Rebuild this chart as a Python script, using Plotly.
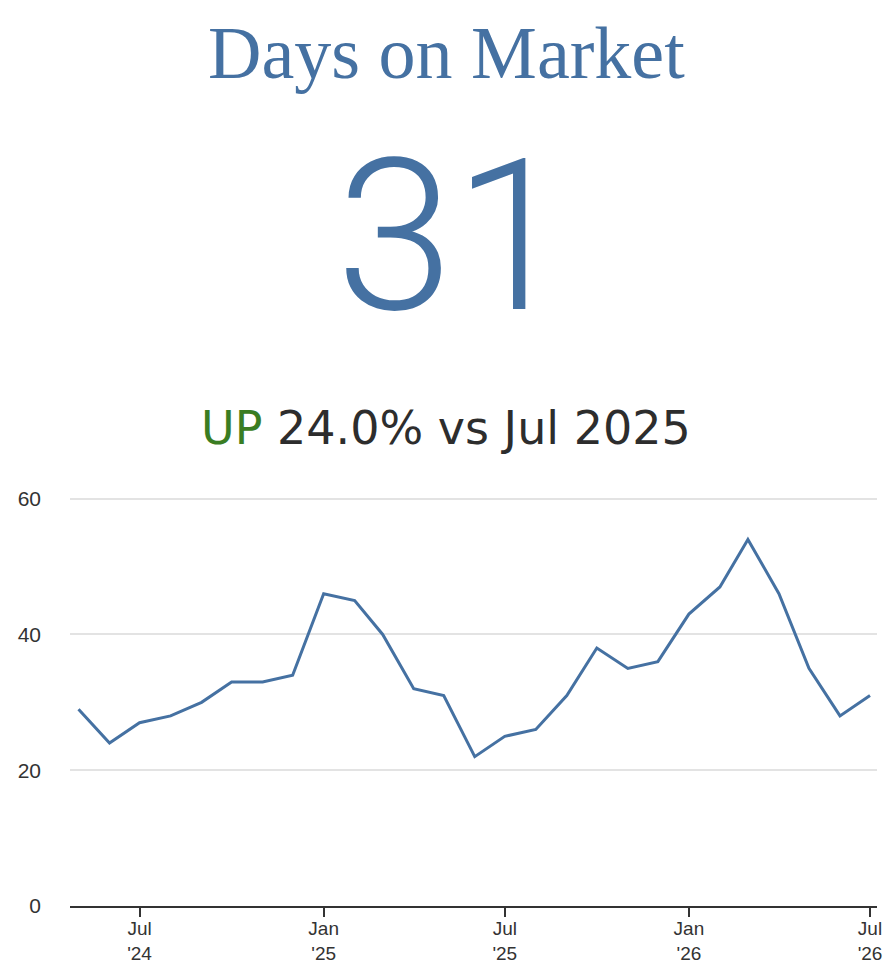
import plotly.graph_objects as go

# ---- data ----
months = [
    "2024-05-01", "2024-06-01", "2024-07-01", "2024-08-01", "2024-09-01",
    "2024-10-01", "2024-11-01", "2024-12-01", "2025-01-01", "2025-02-01",
    "2025-03-01", "2025-04-01", "2025-05-01", "2025-06-01", "2025-07-01",
    "2025-08-01", "2025-09-01", "2025-10-01", "2025-11-01", "2025-12-01",
    "2026-01-01", "2026-02-01", "2026-03-01", "2026-04-01", "2026-05-01",
    "2026-06-01", "2026-07-01",
]
days_on_market = [29, 24, 27, 28, 30, 33, 33, 34, 46, 45, 40, 32, 31, 22, 25,
                  26, 31, 38, 35, 36, 43, 47, 54, 46, 35, 28, 31]
x_tick_vals = ["2024-07-01", "2025-01-01", "2025-07-01", "2026-01-01", "2026-07-01"]
x_tick_text = ["Jul<br>'24", "Jan<br>'25", "Jul<br>'25", "Jan<br>'26", "Jul<br>'26"]
y_tick_vals = [0, 20, 40, 60]
title_text = "Days on Market"
current_value = "31"
change_word = "UP"
change_rest = "24.0% vs Jul 2025"

BLUE = "#4571a2"
OFF = 8  # default page body margin
W, H = 878, 954
M_L, M_R, M_T, M_B = 62, 9, 488, 56
plot_h = H - M_T - M_B
plot_w = W - M_L - M_R


def py_to_paper(py_screen):
    return (H - M_B - (py_screen - OFF)) / plot_h


def px_to_paper(px_screen):
    return (px_screen - OFF - M_L) / plot_w


fig = go.Figure()
fig.add_trace(go.Scatter(
    x=months, y=days_on_market, mode="lines",
    line=dict(color=BLUE, width=3), hoverinfo="x+y",
))

fig.update_layout(
    width=W, height=H,
    margin=dict(l=M_L, r=M_R, t=M_T, b=M_B, pad=0, autoexpand=False),
    paper_bgcolor="white", plot_bgcolor="white",
    showlegend=False,
    font=dict(family="Liberation Sans", size=19, color="#333333"),
)
fig.update_xaxes(
    type="date", range=["2024-04-22 12:00", "2026-07-08"],
    tickmode="array", tickvals=x_tick_vals, ticktext=x_tick_text,
    ticks="outside", ticklen=9, tickwidth=1.5, tickcolor="#333333",
    showline=True, linecolor="#333333", linewidth=2,
    showgrid=False, zeroline=False, ticklabelstandoff=-5,
    automargin=False,
    tickfont=dict(family="Liberation Sans", size=19, color="#333333"),
)
fig.update_yaxes(
    range=[0, 60.4], tickmode="array", tickvals=y_tick_vals,
    showgrid=True, gridcolor="#e3e3e3", gridwidth=1.5,
    zeroline=False, showline=False, ticks="",
    ticklabelstandoff=28, automargin=False,
    tickfont=dict(family="Liberation Sans", size=21, color="#333333"),
)

fig.add_annotation(
    text=title_text, xref="paper", yref="paper", x=px_to_paper(446.5), y=py_to_paper(53),
    xanchor="center", yanchor="middle", showarrow=False,
    font=dict(family="Liberation Serif", size=74, color=BLUE),
)
fig.add_annotation(
    text=current_value, xref="paper", yref="paper", x=px_to_paper(453), y=py_to_paper(236),
    xanchor="center", yanchor="middle", showarrow=False,
    font=dict(family="Roboto", size=212, color=BLUE, weight=300),
)
fig.add_annotation(
    text=f"<span style='color:#3a7d22'>{change_word}</span> {change_rest}",
    xref="paper", yref="paper", x=px_to_paper(446), y=py_to_paper(428),
    xanchor="center", yanchor="middle", showarrow=False,
    font=dict(family="DejaVu Sans", size=46, color="#2d2d2d"),
)

fig.write_html("out.html")
